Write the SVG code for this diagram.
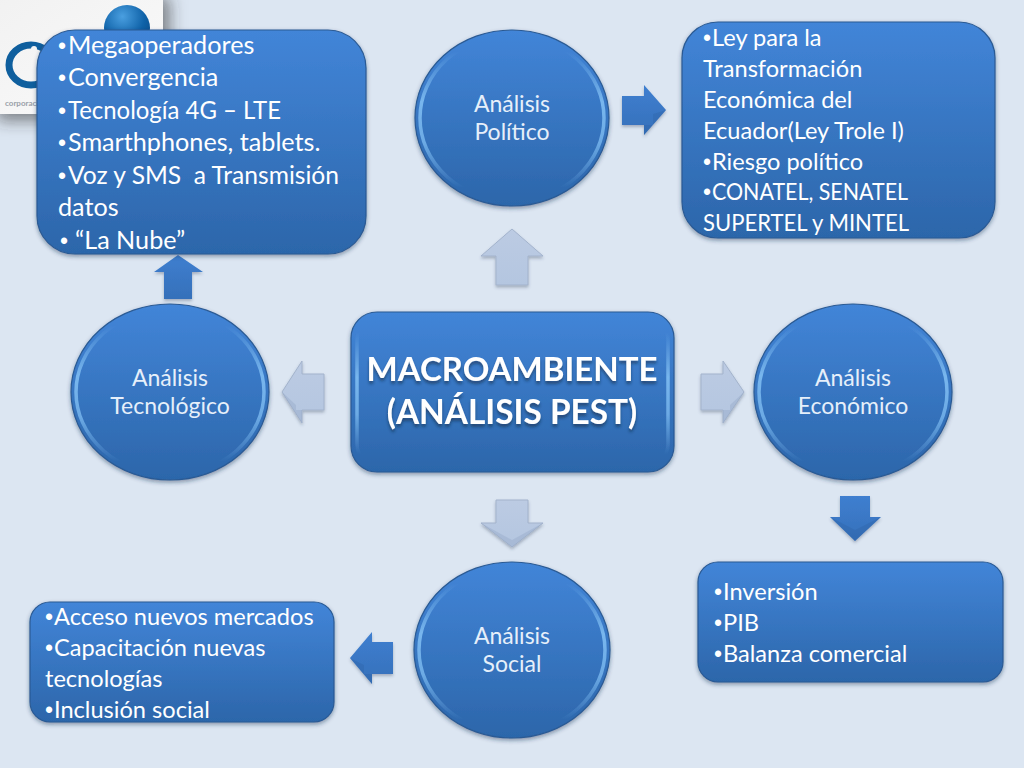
<svg xmlns="http://www.w3.org/2000/svg" width="1024" height="768" viewBox="0 0 1024 768">
<style>
text{font-family:Lato,"Open Sans","Liberation Sans",sans-serif;fill:#fff;white-space:pre}
.l{font-size:23.6px}
.t{font-size:25.2px}
.b{font-family:"Liberation Sans",sans-serif;font-size:23px}
.c{font-size:23px;text-anchor:middle;fill:#e6effa}
.box{fill:url(#g);stroke:#2a5a94;stroke-width:1.2;filter:url(#s)}
.in{fill:none;stroke:url(#rim);stroke-width:3.5}
.pale{fill:url(#pg);stroke:#a3b3cc;stroke-width:1;filter:url(#s2)}
.dark{fill:url(#dg);filter:url(#s2)}
.f{fill:#2a5f9f;opacity:.28}
.fp{fill:#8fa3c2;opacity:.35}
</style>
<defs>
<linearGradient id="g" x1="0" y1="0" x2="0" y2="1"><stop offset="0" stop-color="#4285d8"/><stop offset="1" stop-color="#2c66aa"/></linearGradient>
<linearGradient id="dg" x1="0" y1="0" x2="0" y2="1"><stop offset="0" stop-color="#3f7fd0"/><stop offset="1" stop-color="#3570ba"/></linearGradient>
<linearGradient id="pg" x1="0" y1="0" x2="0" y2="1"><stop offset="0" stop-color="#bccbe3"/><stop offset="1" stop-color="#b4c6e0"/></linearGradient>
<linearGradient id="rim" x1="0" y1="0" x2="0" y2="1"><stop offset=".1" stop-color="#7fbdf2" stop-opacity="0"/><stop offset=".4" stop-color="#7fbdf2" stop-opacity=".9"/><stop offset=".65" stop-color="#7fbdf2" stop-opacity=".75"/><stop offset=".92" stop-color="#7fbdf2" stop-opacity="0"/></linearGradient>
<linearGradient id="lg" x1="0" y1="0" x2="1" y2="1"><stop offset="0" stop-color="#f1f1f1"/><stop offset="1" stop-color="#fafafa"/></linearGradient>
<radialGradient id="sp" cx=".4" cy=".25" r=".8"><stop offset="0" stop-color="#4a9fe0"/><stop offset=".6" stop-color="#0f62a8"/><stop offset="1" stop-color="#0a4a86"/></radialGradient>
<filter id="s" x="-10%" y="-10%" width="120%" height="120%"><feDropShadow dx="0" dy="2" stdDeviation="2" flood-color="#1c2f4d" flood-opacity=".45"/></filter>
<filter id="s2" x="-20%" y="-20%" width="140%" height="140%"><feDropShadow dx="0" dy="2" stdDeviation="1.5" flood-color="#33445f" flood-opacity=".35"/></filter>
<filter id="s3" x="-30%" y="-30%" width="170%" height="170%"><feDropShadow dx="7" dy="7" stdDeviation="8" flood-color="#333" flood-opacity=".55"/></filter>
<filter id="ts" x="-5%" y="-30%" width="110%" height="170%"><feDropShadow dx="0" dy="3" stdDeviation="1.5" flood-color="#12253f" flood-opacity=".55"/></filter>
</defs>
<rect width="1024" height="768" fill="#dce6f2"/>
<g id="logo">
<rect x="-10" y="-10" width="173" height="124" fill="url(#lg)" filter="url(#s3)"/>
<circle cx="127" cy="28" r="23" fill="url(#sp)"/>
<ellipse cx="31" cy="65" rx="22" ry="20" fill="none" stroke="#0f5f9e" stroke-width="7"/>
<circle cx="34" cy="49" r="3" fill="#f4f4f4"/>
<text x="5" y="106" style="font-size:8px;font-weight:700;fill:#9aa0a8">corporaci</text>
</g>
<g id="connectors">
<path class="pale" d="M496 285V256H481L512 229L543 256H528V285Z"/>
<path class="pale" d="M701 374H723V361L744 392L723 423V410H701Z"/>
<path class="fp" d="M723 410V423L744 392L730 405V410Z"/>
<path class="pale" d="M324 374H302V361L282 392L302 423V410H324Z"/>
<path class="fp" d="M302 410V423L282 392L296 405V410Z"/>
<path class="pale" d="M496 500V523H481L512 547L543 523H528V500Z"/>
<path class="fp" d="M481 523L512 547L543 523L512 540Z"/>
<path class="dark" d="M622 96H644V85L666 110L644 135V125H622Z"/>
<path class="f" d="M644 125H653V114L666 110L644 135Z"/>
<path class="dark" d="M164 299V272H154L178 255L203 272H192V299Z"/>
<path class="dark" d="M840 496V517H830L855 541L881 517H870V496Z"/>
<path class="f" d="M830 517L855 541L881 517L855 530Z"/>
<path class="dark" d="M393 642H372V632L350 658L372 684V674H393Z"/>
<path class="f" d="M372 674V684L350 658L364 665V674Z"/>
</g>
<g id="center">
<rect class="box" x="351" y="312" width="323" height="160" rx="26"/>
<rect class="in" x="357" y="318" width="311" height="148" rx="22"/>
<g filter="url(#ts)"><text x="512" y="381" text-anchor="middle" style="font-size:33px;font-weight:700">MACROAMBIENTE</text>
<text x="512" y="424" text-anchor="middle" style="font-size:33.4px;font-weight:700">(ANÁLISIS PEST)</text></g>
</g>
<g id="politico">
<ellipse class="box" cx="512" cy="118" rx="97" ry="88"/><ellipse class="in" cx="512" cy="118" rx="92" ry="83"/>
<text class="c" x="512" y="112">Análisis</text><text class="c" x="512" y="140">Político</text>
</g>
<g id="economico">
<ellipse class="box" cx="853" cy="392" rx="99" ry="88"/><ellipse class="in" cx="853" cy="392" rx="94" ry="83"/>
<text class="c" x="853" y="386">Análisis</text><text class="c" x="853" y="414">Económico</text>
</g>
<g id="tecnologico">
<ellipse class="box" cx="170" cy="392" rx="99" ry="88"/><ellipse class="in" cx="170" cy="392" rx="94" ry="83"/>
<text class="c" x="170" y="386">Análisis</text><text class="c" x="170" y="414">Tecnológico</text>
</g>
<g id="social">
<ellipse class="box" cx="512" cy="650" rx="98" ry="88"/><ellipse class="in" cx="512" cy="650" rx="93" ry="83"/>
<text class="c" x="512" y="644">Análisis</text><text class="c" x="512" y="672">Social</text>
</g>
<g id="tec-box">
<rect class="box" x="37" y="30" width="329" height="224" rx="38"/>
<text class="t" y="54"><tspan class="b" x="58">•</tspan><tspan x="68">Megaoperadores</tspan></text>
<text class="t" y="86"><tspan class="b" x="58">•</tspan><tspan x="68">Convergencia</tspan></text>
<text class="t" y="119"><tspan class="b" x="58">•</tspan><tspan x="68" textLength="213" lengthAdjust="spacingAndGlyphs">Tecnología 4G – LTE</tspan></text>
<text class="t" y="151"><tspan class="b" x="58">•</tspan><tspan x="68">Smarthphones, tablets.</tspan></text>
<text class="t" y="184"><tspan class="b" x="58">•</tspan><tspan x="68" textLength="271" lengthAdjust="spacingAndGlyphs">Voz y SMS  a Transmisión</tspan></text>
<text class="t" x="58" y="216">datos</text>
<text class="t" y="249"><tspan class="b" x="60">•</tspan><tspan x="75">“La Nube”</tspan></text>
</g>
<g id="pol-box">
<rect class="box" x="682" y="22" width="313" height="216" rx="36"/>
<text class="l" y="46"><tspan class="b" x="703">•</tspan><tspan x="712">Ley para la</tspan></text>
<text class="l" x="703" y="77">Transformación</text>
<text class="l" x="703" y="108">Económica del</text>
<text class="l" x="703" y="139">Ecuador(Ley Trole I)</text>
<text class="l" y="170"><tspan class="b" x="703">•</tspan><tspan x="712">Riesgo político</tspan></text>
<text class="l" y="200"><tspan class="b" x="703">•</tspan><tspan x="712" textLength="196" lengthAdjust="spacingAndGlyphs">CONATEL, SENATEL</tspan></text>
<text class="l" x="703" y="231" textLength="206" lengthAdjust="spacingAndGlyphs">SUPERTEL y MINTEL</text>
</g>
<g id="eco-box">
<rect class="box" x="698" y="562" width="305" height="120" rx="20"/>
<text class="l" y="600"><tspan class="b" x="714">•</tspan><tspan x="723">Inversión</tspan></text>
<text class="l" y="631"><tspan class="b" x="714">•</tspan><tspan x="723">PIB</tspan></text>
<text class="l" y="662"><tspan class="b" x="714">•</tspan><tspan x="723">Balanza comercial</tspan></text>
</g>
<g id="soc-box">
<rect class="box" x="30" y="602" width="304" height="120" rx="20"/>
<text class="l" y="625"><tspan class="b" x="45">•</tspan><tspan x="54">Acceso nuevos mercados</tspan></text>
<text class="l" y="656"><tspan class="b" x="45">•</tspan><tspan x="54">Capacitación nuevas</tspan></text>
<text class="l" x="45" y="687">tecnologías</text>
<text class="l" y="718"><tspan class="b" x="45">•</tspan><tspan x="54">Inclusión social</tspan></text>
</g>
</svg>
